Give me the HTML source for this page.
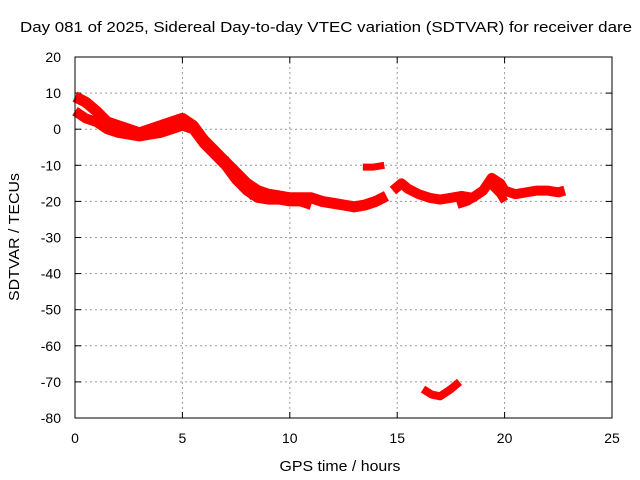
<!DOCTYPE html>
<html><head><meta charset="utf-8"><style>
body{margin:0;background:#fff;}
svg{display:block;font-family:"Liberation Sans",sans-serif;}
</style></head><body>
<svg id="chart" width="640" height="480">
<rect width="640" height="480" fill="#fff"/>
<text x="20" y="32" font-size="15" textLength="612" lengthAdjust="spacingAndGlyphs">Day 081 of 2025, Sidereal Day-to-day VTEC variation (SDTVAR) for receiver dare</text>
<text x="340" y="471" font-size="15" textLength="121" lengthAdjust="spacingAndGlyphs" text-anchor="middle">GPS time / hours</text>
<text transform="translate(19,237) rotate(-90)" font-size="15" textLength="128" lengthAdjust="spacingAndGlyphs" text-anchor="middle">SDTVAR / TECUs</text>
<g id="grid"></g><g id="ticks"></g><g id="marks"></g>
<rect x="75" y="57" width="537" height="361" fill="none" stroke="#000" stroke-width="1"/>
</svg>
<script>
const xTicks=[0,5,10,15,20,25];
const yTicks=[20,10,0,-10,-20,-30,-40,-50,-60,-70,-80];
const trackUpperH=[0,0.5,1,1.5,2,2.5,3,3.5,4,4.5,5,5.5,6,6.5,7,7.5,8,8.5,9,9.5,10,10.5,11,11.5,12,12.5,13,13.5,14,14.5];
const trackUpperV=[9,7.5,5,2,1,0,-1,0,1,2,3,1,-3,-6,-9,-12,-15,-17,-18,-18.5,-19,-19,-19,-20,-20.5,-21,-21.5,-21,-20,-18.5];
const trackLowerH=[0,0.5,1,1.5,2,2.5,3,3.5,4,4.5,5,5.5,6,6.5,7,7.5,8,8.5,9,9.5,10,10.5,11];
const trackLowerV=[5,3,2,0,-1,-1.5,-2,-1.5,-1,0,1,0,-4,-7,-10,-14,-17,-19,-19.5,-19.5,-20,-20,-21];
const branchH=[7,7.5,8,8.3];
const branchV=[-8,-13,-17,-19];
const shortH=[13.4,13.9,14.4];
const shortV=[-10.5,-10.5,-10];
const eveningH=[14.8,15.2,15.5,16,16.5,17,17.5,18,18.5,19,19.4,19.8,20,20.5,21,21.5,22,22.5,22.8];
const eveningV=[-17,-15,-16.5,-18,-19,-19.5,-19,-18.5,-19,-17,-13.5,-15,-17,-18,-17.5,-17,-17,-17.5,-17];
const eveningLowH=[17.8,18.3,18.8,19.3,19.8,20];
const eveningLowV=[-21,-20,-18,-15,-18,-20];
const outlierH=[16.2,16.6,17,17.5,17.9];
const outlierV=[-72,-73.5,-74,-72,-70];

const X=h=>75+h*(537/25);
const Y=v=>57+(20-v)*(361/100);
const NS='http://www.w3.org/2000/svg';
function mk(tag,parent){const e=document.createElementNS(NS,tag);document.getElementById(parent).appendChild(e);return e;}
xTicks.forEach(t=>{
 if(t>0&&t<25){const g=mk('line','grid');g.setAttribute('x1',X(t));g.setAttribute('x2',X(t));g.setAttribute('y1',57);g.setAttribute('y2',418);g.setAttribute('stroke','#999');g.setAttribute('stroke-dasharray','2,3');
 
 }
 const l=mk('text','ticks');l.setAttribute('x',X(t));l.setAttribute('y',443);l.setAttribute('font-size','14');l.setAttribute('text-anchor','middle');l.textContent=t;
 
 
 [[418,412],[57,63]].forEach(([a,b])=>{const m=mk('line','ticks');m.setAttribute('x1',X(t));m.setAttribute('x2',X(t));m.setAttribute('y1',a);m.setAttribute('y2',b);m.setAttribute('stroke','#000');});
});
yTicks.forEach(t=>{
 if(t<20&&t>-80){const g=mk('line','grid');g.setAttribute('x1',75);g.setAttribute('x2',612);g.setAttribute('y1',Y(t));g.setAttribute('y2',Y(t));g.setAttribute('stroke','#999');g.setAttribute('stroke-dasharray','2,3');
 
 }
 const l=mk('text','ticks');l.setAttribute('x',61);l.setAttribute('y',Y(t)+5);l.setAttribute('font-size','14');l.setAttribute('text-anchor','end');l.textContent=t;
 
 
 [[75,81],[612,606]].forEach(([a,b])=>{const m=mk('line','ticks');m.setAttribute('x1',a);m.setAttribute('x2',b);m.setAttribute('y1',Y(t));m.setAttribute('y2',Y(t));m.setAttribute('stroke','#000');});
});
function track(hs,vs,name,w){
 const p=mk('polyline','marks');
 p.setAttribute('points',hs.map((h,i)=>X(h)+','+Y(vs[i])).join(' '));
 p.setAttribute('fill','none');p.setAttribute('stroke','#f00');p.setAttribute('stroke-width',w);p.setAttribute('stroke-linejoin','round');p.setAttribute('stroke-linecap','butt');
 
 
}
track(trackUpperH,trackUpperV,'series-upper-track',11);
track(trackLowerH,trackLowerV,'series-lower-track',10);
track(branchH,branchV,'series-branch-track',7);
track(shortH,shortV,'series-short-track',7);
track(eveningH,eveningV,'series-evening-track',10);
track(eveningLowH,eveningLowV,'series-evening-low-track',8);
track(outlierH,outlierV,'series-outlier-track',8);
</script>
</body></html>
